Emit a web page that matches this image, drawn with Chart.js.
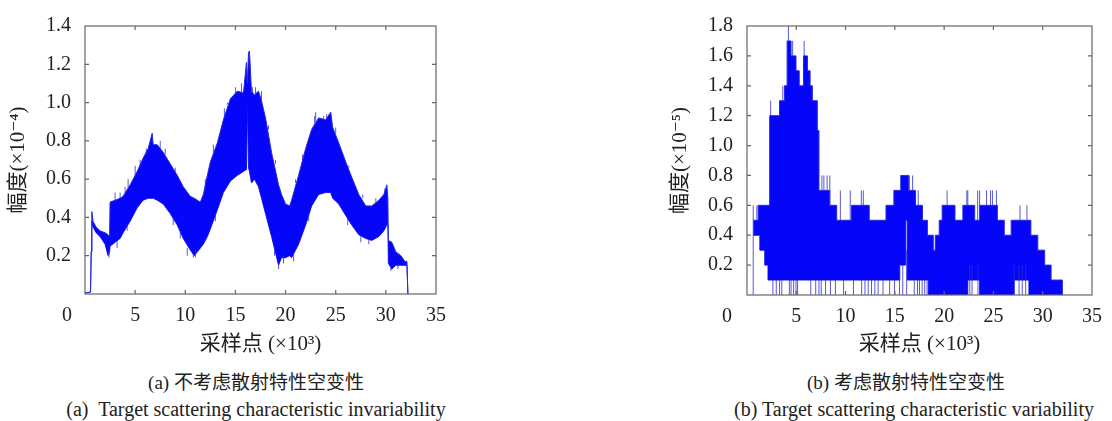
<!DOCTYPE html>
<html><head><meta charset="utf-8">
<script src="https://cdn.jsdelivr.net/npm/chart.js@4.4.1/dist/chart.umd.min.js"></script>
<style>
body{margin:0;background:#fff;width:1112px;height:421px;overflow:hidden;position:relative;font-family:'Liberation Serif','DejaVu Serif','Noto Sans CJK SC',serif;color:#222;}
#wa{position:absolute;left:0;top:0;width:556px;height:360px;}
#wb{position:absolute;left:660px;top:0;width:452px;height:360px;}
.cap{position:absolute;transform:translateX(-50%);white-space:nowrap;font-size:19px;line-height:22px;}
.en{font-size:20px;}
</style></head><body>
<div id="wa"><canvas id="ca"></canvas></div>
<div id="wb"><canvas id="cb"></canvas></div>
<div class="cap" style="left:256px;top:372px;">(a) 不考虑散射特性空变性</div>
<div class="cap en" style="left:256px;top:398px;">(a)&nbsp; Target scattering characteristic invariability</div>
<div class="cap" style="left:906px;top:372px;">(b) 考虑散射特性空变性</div>
<div class="cap en" style="left:914px;top:398px;">(b) Target scattering characteristic variability</div>
<script>
// ---------- shared text ----------
const xTitle = '采样点 (×10³)';
const yTitleA = '幅度(×10⁻⁴)';
const yTitleB = '幅度(×10⁻⁵)';
const xTicks = [0, 5, 10, 15, 20, 25, 30, 35];

// ---------- (a) envelope of the dense oscillating signal (×10^3 samples, ×10^-4) ----------
const xA  = [0.0,0.55,0.62,0.68,0.8,1.1,1.5,2.0,2.3,2.45,2.5,3.0,3.5,3.8,4.5,5.2,5.8,6.3,6.7,6.8,7.2,7.8,8.5,9.2,9.8,10.5,10.9,11.2,11.5,11.8,12.2,12.5,13.2,13.8,14.5,15.2,15.8,16.1,16.2,16.3,16.4,16.6,16.9,17.3,17.6,18.0,18.6,19.3,19.6,20.0,20.4,20.6,21.3,22.0,22.6,23.3,24.0,24.5,24.7,25.3,26.0,26.6,27.3,28.0,28.6,29.3,29.8,30.1,30.2,30.25,30.6,31.0,31.5,31.9,32.1,32.2];
const upA = [0.005,0.01,0.22,0.43,0.38,0.35,0.33,0.32,0.31,0.30,0.48,0.49,0.50,0.51,0.57,0.64,0.71,0.76,0.84,0.78,0.78,0.74,0.68,0.62,0.56,0.51,0.50,0.49,0.48,0.52,0.62,0.69,0.79,0.91,1.02,1.06,1.05,1.21,1.10,1.26,1.27,1.06,1.04,1.06,1.01,0.92,0.74,0.57,0.52,0.47,0.46,0.49,0.62,0.76,0.86,0.92,0.91,0.95,0.87,0.79,0.69,0.61,0.52,0.46,0.46,0.49,0.52,0.57,0.50,0.28,0.27,0.22,0.20,0.17,0.17,0.0];
const loA = [0.005,0.01,0.22,0.38,0.35,0.32,0.30,0.26,0.20,0.22,0.25,0.27,0.29,0.32,0.38,0.45,0.49,0.50,0.50,0.50,0.49,0.47,0.42,0.36,0.29,0.23,0.20,0.22,0.24,0.26,0.30,0.34,0.44,0.53,0.59,0.62,0.64,0.65,1.00,0.66,0.64,0.58,0.60,0.56,0.50,0.42,0.30,0.15,0.19,0.19,0.20,0.19,0.26,0.36,0.46,0.52,0.53,0.53,0.50,0.47,0.41,0.36,0.31,0.29,0.28,0.30,0.33,0.36,0.36,0.16,0.13,0.15,0.15,0.15,0.15,0.0];
// (a) thin spikes sticking out of the band
const spAX  = [2.4,3.0,3.5,4.0,4.3,5.0,5.5,6.1,7.5,8.0,9.0,12.0,12.8,13.9,14.2,15.0,15.6,16.7,17.0,17.6,18.3,19.0,21.0,21.7,22.9,23.0,23.8,24.1,25.0,26.3,27.7,29.0,29.9,
               3.2,4.2,8.8,9.5,10.2,10.8,11.0,13.0,18.9,19.3,19.8,20.8,22.3,26.2,27.5,28.3,30.5,31.2];
const spALo = [0.19,0.49,0.50,0.52,0.55,0.62,0.66,0.73,0.76,0.73,0.64,0.55,0.74,0.92,0.99,1.05,1.05,1.05,1.04,1.01,0.86,0.68,0.58,0.70,0.89,0.90,0.91,0.91,0.84,0.66,0.50,0.48,0.52,
               0.24,0.33,0.36,0.29,0.20,0.19,0.19,0.38,0.20,0.13,0.16,0.17,0.38,0.36,0.27,0.26,0.12,0.13];
const spAHi = [0.22,0.53,0.53,0.56,0.60,0.67,0.70,0.76,0.80,0.76,0.66,0.60,0.78,0.97,1.00,1.08,1.10,1.08,1.08,1.06,0.88,0.70,0.60,0.73,0.93,0.95,0.93,0.94,0.87,0.67,0.52,0.50,0.55,
               0.28,0.37,0.40,0.33,0.24,0.21,0.23,0.42,0.24,0.16,0.20,0.21,0.42,0.40,0.31,0.29,0.14,0.16];

// ---------- (b) quantised envelope, steps start at xB (×10^3 samples, ×10^-5) ----------
const xB  = [0.63,1.13,1.3,1.8,2.13,2.3,3.3,3.8,4.07,4.47,4.97,5.3,5.73,6.13,6.4,6.63,7.13,7.3,8.4,9.1,10.6,12.4,14.1,14.9,15.5,15.6,16.1,16.25,16.4,17.1,17.8,18.3,18.4,18.9,19.1,19.5,19.8,21.1,21.9,22.4,23.1,23.6,25.4,26.1,26.8,27.1,28.6,28.8,29.5,30.2,30.85,32.0];
const upB = [0.5,0.6,0.6,0.6,0.6,1.2,1.3,1.4,1.7,1.6,1.5,1.4,1.6,1.5,1.4,1.3,1.1,0.7,0.6,0.5,0.6,0.5,0.6,0.7,0.7,0.8,0.8,0.8,0.7,0.6,0.5,0.4,0.4,0.3,0.4,0.5,0.6,0.5,0.6,0.6,0.5,0.6,0.5,0.4,0.5,0.5,0.5,0.4,0.3,0.2,0.1,0.0];
const loB = [0.4,0.4,0.3,0.2,0.1,0.1,0.1,0.1,0.1,0.1,0.1,0.1,0.1,0.1,0.1,0.1,0.1,0.1,0.1,0.1,0.1,0.1,0.1,0.1,0.2,0.2,0.5,0.1,0.1,0.1,0.1,0.1,0.0,0.0,0.0,0.0,0.0,0.0,0.0,0.1,0.1,0.0,0.0,0.0,0.0,0.1,0.0,0.0,0.0,0.0,0.0,0.0];
// (b) thin spikes
const spBX  = [0.63,1.0,2.4,3.63,4.2,4.63,5.8,7.6,7.8,8.13,8.4,9.47,10.47,11.6,11.8,16.47,16.8,17.37,20.3,22.3,22.4,23.4,23.6,24.3,24.7,24.9,25.3,27.7,28.4,
               2.63,2.97,3.3,3.53,4.3,4.47,4.73,4.97,5.13,6.47,6.97,7.3,7.53,7.97,8.47,8.97,9.8,10.8,11.63,11.97,12.3,12.63,12.97,13.3,13.8,14.47,14.97,15.47,15.8,16.2,16.97,17.3,17.5,17.77,18.03,18.27,22.6,22.83,23.43,27.1,27.6,27.93,28.27];
const spBLo = [0,0.5,1.2,1.3,1.7,1.6,1.6,0.7,0.7,0.7,0.6,0.5,0.5,0.6,0.6,0.7,0.7,0.6,0.6,0.6,0.6,0.5,0.6,0.6,0.6,0.6,0.6,0.5,0.5,
               0,0,0,0,0,0,0,0,0,0,0,0,0,0,0,0,0,0,0,0,0,0,0,0,0,0,0,0,0,0,0,0,0,0,0,0,0,0,0,0,0,0,0];
const spBHi = [0.6,0.6,1.3,1.4,1.8,1.7,1.7,0.8,0.8,0.8,0.8,0.7,0.7,0.7,0.7,0.8,0.8,0.7,0.7,0.7,0.7,0.7,0.7,0.7,0.7,0.7,0.7,0.6,0.6,
               0.1,0.1,0.1,0.1,0.1,0.1,0.1,0.1,0.1,0.1,0.1,0.1,0.1,0.1,0.1,0.1,0.1,0.1,0.1,0.1,0.1,0.1,0.1,0.1,0.1,0.1,0.1,0.2,0.2,0.3,0.1,0.1,0.1,0.1,0.1,0.1,0.2,0.2,0.2,0.2,0.2,0.2,0.2];

// ---------- drawing ----------
const FILL = 'rgb(5,5,250)';
const EDGE = 'rgb(40,40,225)';
const SPIKE = 'rgba(45,45,215,0.8)';
const FONT = "'Liberation Serif','DejaVu Serif','Noto Sans CJK SC',serif";
const TICK_SIZE = 20, TICK_PAD = 10;

function pts(xs, ys){ return xs.map((x,i)=>({x:x, y:ys[i]})); }
function spikes(xs, lo, hi){ const d=[]; xs.forEach((x,i)=>{ d.push({x:x,y:lo[i]},{x:x,y:hi[i]},{x:x,y:null}); }); return d; }

const framePlugin = {
  id:'frame',
  afterDatasetsDraw(chart, args, opts){
    const ctx = chart.ctx, a = chart.chartArea, xs = chart.scales.x, ys = chart.scales.y;
    ctx.save();
    ctx.strokeStyle = '#666'; ctx.lineWidth = 1.2;
    ctx.strokeRect(a.left, a.top, a.right-a.left, a.bottom-a.top);
    ctx.beginPath();
    const L = 4;
    xs.ticks.forEach(t=>{ const p = xs.getPixelForValue(t.value); if(p<=a.left+1||p>=a.right-1) return;
      ctx.moveTo(p,a.bottom); ctx.lineTo(p,a.bottom-L); ctx.moveTo(p,a.top); ctx.lineTo(p,a.top+L); });
    ys.ticks.forEach(t=>{ const p = ys.getPixelForValue(t.value); if(p<=a.top+1||p>=a.bottom-1) return;
      ctx.moveTo(a.left,p); ctx.lineTo(a.left+L,p); ctx.moveTo(a.right,p); ctx.lineTo(a.right-L,p); });
    ctx.stroke();
    ctx.fillStyle = '#222'; ctx.font = TICK_SIZE + 'px ' + FONT; ctx.textAlign = 'center'; ctx.textBaseline = 'middle';
    ctx.fillText(String(xTicks[0]), a.left + opts.zeroDx, a.bottom + TICK_PAD + TICK_SIZE*0.6);
    ctx.restore();
  }
};

function makeChart(id, o){
  return new Chart(document.getElementById(id), {
    type:'line',
    data:{datasets:[
      {data:pts(o.x,o.lo), borderColor:EDGE, borderWidth:1, pointRadius:0, fill:false, stepped:o.stepped, order:2},
      {data:pts(o.x,o.up), borderColor:EDGE, borderWidth:1, pointRadius:0, fill:'-1', backgroundColor:FILL, stepped:o.stepped, order:1},
      {data:spikes(o.sx,o.slo,o.shi), borderColor:SPIKE, borderWidth:1, pointRadius:0, fill:false, spanGaps:false, order:0}
    ]},
    options:{
      responsive:true, maintainAspectRatio:false, animation:false, events:[],
      layout:{padding:{top:15, right:o.padRight, left:0, bottom:0}},
      plugins:{legend:{display:false}, tooltip:{enabled:false}, frame:{zeroDx:o.zeroDx}},
      scales:{
        x:{type:'linear', min:0, max:35, afterBuildTicks(s){ s.ticks = xTicks.map(v=>({value:v})); },
           ticks:{color:'#222', padding:TICK_PAD, maxRotation:0, font:{family:FONT,size:TICK_SIZE,lineHeight:1.2}, callback:v=> v===0 ? '' : String(v)},
           grid:{display:false, drawTicks:false}, border:{display:false},
           title:{display:true, text:xTitle, color:'#222', font:{family:FONT,size:21,lineHeight:1.2}, padding:{top:0,bottom:3}},
           afterFit(s){ s.height = o.xh; }},
        y:{type:'linear', min:0, max:o.ymax, ticks:{stepSize:0.2, color:'#222', padding:14, font:{family:FONT,size:TICK_SIZE,lineHeight:1.2}, callback:v=> Math.abs(v)<1e-9 ? '' : v.toFixed(1)},
           grid:{display:false, drawTicks:false}, border:{display:false},
           title:{display:true, text:o.yTitle, color:'#222', font:{family:FONT,size:21,lineHeight:1.2}, padding:{top:o.yTitlePad,bottom:0}},
           afterFit(s){ s.width = o.yw; }}
      }
    },
    plugins:[framePlugin]
  });
}

makeChart('ca', {x:xA, up:upA, lo:loA, sx:spAX, slo:spALo, shi:spAHi, stepped:false, ymax:1.4, yTitle:yTitleA, yw:85, padRight:120, xh:66, yTitlePad:6, zeroDx:-18});
makeChart('cb', {x:xB, up:upB, lo:loB, sx:spBX, slo:spBLo, shi:spBHi, stepped:true, ymax:1.8, yTitle:yTitleB, yw:87, padRight:15, xh:65, yTitlePad:8, zeroDx:-20});
</script>
</body></html>
